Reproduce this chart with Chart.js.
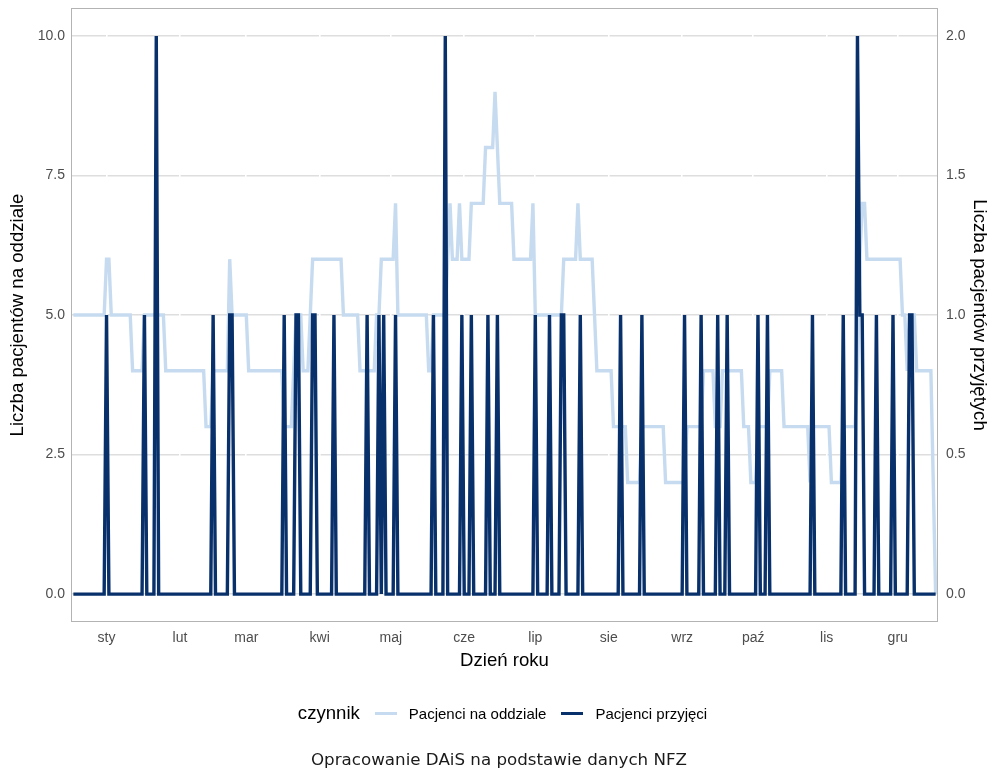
<!DOCTYPE html>
<html lang="pl">
<head>
<meta charset="utf-8">
<title>Pacjenci</title>
<script src="https://cdn.jsdelivr.net/npm/chart.js@4.4.1/dist/chart.umd.min.js"></script>
<style>
  html, body { margin: 0; padding: 0; background: #fff; }
  #wrap { position: relative; width: 990px; height: 775px; }
  #legend {
    position: absolute; left: 0; top: 700px; width: 990px; height: 26px;
    display: flex; justify-content: center; align-items: center;
    font-family: "Liberation Sans", Arial, sans-serif; color: #000;
    padding-left: 30px; box-sizing: border-box;
  }
  #legend .title { font-size: 18.6px; margin-right: 15px; }
  #legend .swatch { width: 22px; height: 3px; margin-right: 12px; }
  #legend .label { font-size: 15px; margin-right: 15px; }
  #caption {
    position: absolute; left: 0; top: 749px; width: 998px; text-align: center;
    font-family: "DejaVu Sans", sans-serif; font-size: 16.7px; color: #1a1a1a;
  }
</style>
</head>
<body>
<div id="wrap">
  <canvas id="myChart" width="990" height="775"></canvas>
  <div id="legend"></div>
  <div id="caption">Opracowanie DAiS na podstawie danych NFZ</div>
</div>
<script>
// dzienne wartości, jedna linia = jeden miesiąc
const pacjenciNaOddziale = [
  5,5,5,5,5,5,5,5,5,5, 5,5,5,5,6,6,5,5,5,5, 5,5,5,5,5,4,4,4,4,4, 5,           // sty
  5,5,5,5,5,5,5,5,4,4, 4,4,4,4,4,4,4,4,4,4, 4,4,4,4,4,3,3,3,                 // lut
  4,4,4,4,4,4,4,6,5,5, 5,5,5,5,5,4,4,4,4,4, 4,4,4,4,4,4,4,4,4,4, 3,           // mar
  3,3,3,4,5,5,5,4,4,4, 5,6,6,6,6,6,6,6,6,6, 6,6,6,6,5,5,5,5,5,5,             // kwi
  5,4,4,4,4,4,4,4,5,5, 6,6,6,6,6,6,7,5,5,5, 5,5,5,5,5,5,5,5,5,5, 4,           // maj
  4,5,5,5,5,5,5,6,7,6, 6,6,7,6,6,6,6,7,7,7, 7,7,7,8,8,8,8,9,8,7,             // cze
  7,7,7,7,7,6,6,6,6,6, 6,6,6,7,5,5,5,5,5,5, 5,5,5,5,5,5,6,6,6,6, 6,           // lip
  6,7,6,6,6,6,6,6,5,4, 4,4,4,4,4,4,3,3,3,3, 3,3,2,2,2,2,2,2,3,3, 3,           // sie
  3,3,3,3,3,3,3,2,2,2, 2,2,2,2,2,2,3,3,3,3, 3,3,3,4,4,4,4,4,3,3,             // wrz
  3,4,4,4,4,4,4,4,4,4, 3,3,3,2,2,2,3,3,3,3, 3,4,4,4,4,4,4,3,3,3, 3,           // paź
  3,3,3,3,3,3,3,2,3,3, 3,3,3,3,3,3,2,2,2,2, 2,3,3,3,3,3,3,4,6,7,             // lis
  7,6,6,6,6,6,6,6,6,6, 6,6,6,6,6,6,5,5,4,5, 5,5,4,4,4,4,4,4,4,2, 0            // gru
];

const pacjenciPrzyjeci = [
  0,0,0,0,0,0,0,0,0,0, 0,0,0,0,1,0,0,0,0,0, 0,0,0,0,0,0,0,0,0,0, 1,           // sty
  0,0,0,0,2,0,0,0,0,0, 0,0,0,0,0,0,0,0,0,0, 0,0,0,0,0,0,0,0,                 // lut
  1,0,0,0,0,0,0,1,1,0, 0,0,0,0,0,0,0,0,0,0, 0,0,0,0,0,0,0,0,0,0, 1,           // mar
  0,0,0,0,1,1,0,0,0,0, 0,1,1,0,0,0,0,0,0,0, 1,0,0,0,0,0,0,0,0,0,             // kwi
  0,0,0,0,1,0,0,0,0,1, 0,1,0,0,0,0,1,0,0,0, 0,0,0,0,0,0,0,0,0,0, 0,           // maj
  0,1,0,0,0,0,2,0,0,0, 0,0,0,1,0,0,0,1,0,0, 0,0,0,0,1,0,0,0,1,0,             // cze
  0,0,0,0,0,0,0,0,0,0, 0,0,0,0,1,0,0,0,0,0, 1,0,0,0,0,1,1,0,0,0, 0,           // lip
  0,0,1,0,0,0,0,0,0,0, 0,0,0,0,0,0,0,0,0,1, 0,0,0,0,0,0,0,0,1,0, 0,           // sie
  0,0,0,0,0,0,0,0,0,0, 0,0,0,0,0,1,0,0,0,0, 0,0,1,0,0,0,0,0,0,1,             // wrz
  0,0,0,1,0,0,0,0,0,0, 0,0,0,0,0,0,1,0,0,0, 1,0,0,0,0,0,0,0,0,0, 0,           // paź
  0,0,0,0,0,0,0,0,1,0, 0,0,0,0,0,0,0,0,0,0, 0,1,0,0,0,0,0,2,1,1,             // lis
  0,0,0,0,0,1,0,0,0,0, 0,0,1,0,0,0,0,0,0,1, 1,0,0,0,0,0,0,0,0,0, 0            // gru
];

const dni = pacjenciNaOddziale.map((_, i) => i + 1);

// środki miesięcy jako znaczniki osi X
const miesiaceDni = [15, 46, 74, 105, 135, 166, 196, 227, 258, 288, 319, 349];
const miesiaceNazwy = ["sty", "lut", "mar", "kwi", "maj", "cze", "lip", "sie", "wrz", "paź", "lis", "gru"];

const lewaOs = [0, 2.5, 5, 7.5, 10];
const prawaOs = [0, 0.5, 1, 1.5, 2];

const serie = [
  {name: "Pacjenci na oddziale", values: pacjenciNaOddziale, color: "#c6dbef", axis: "y", order: 1},
  {name: "Pacjenci przyjęci", values: pacjenciPrzyjeci, color: "#08306b", axis: "y2", order: 0}
];

const tickFont = {family: "'Liberation Sans', Arial, sans-serif", size: 14};
const titleFont = {family: "'Liberation Sans', Arial, sans-serif", size: 18.6};

// ramka panelu jak w theme_light
const panelBorder = {
  id: "panelBorder",
  afterDraw(chart) {
    const {ctx, chartArea: a} = chart;
    ctx.save();
    ctx.strokeStyle = "#b3b3b3";
    ctx.lineWidth = 1;
    ctx.strokeRect(a.left + 0.5, a.top + 0.5, a.right - a.left - 1, a.bottom - a.top - 1);
    ctx.restore();
  }
};

// stałe rozmiary osi, bez dodatkowego marginesu na etykiety
const fixWidth = w => scale => { scale.width = w; scale.paddingTop = 0; scale.paddingBottom = 0; };

const chart = new Chart("myChart", {
  type: "line",
  data: {
    labels: dni,
    datasets: serie.map(s => ({
      label: s.name,
      data: s.values,
      borderColor: s.color,
      backgroundColor: s.color,
      borderWidth: 3.4,
      pointRadius: 0,
      tension: 0,
      fill: false,
      yAxisID: s.axis,
      order: s.order
    }))
  },
  options: {
    responsive: false,
    animation: false,
    events: [],
    layout: {padding: {top: 8, left: 0, right: 0, bottom: 103}},
    plugins: {legend: {display: false}, tooltip: {enabled: false}},
    scales: {
      y: {
        type: "linear",
        position: "left",
        min: -0.5,
        max: 10.5,
        afterBuildTicks: scale => { scale.ticks = lewaOs.map(v => ({value: v})); },
        afterFit: fixWidth(71),
        ticks: {color: "#4d4d4d", font: tickFont, padding: 6, callback: v => v.toFixed(1)},
        grid: {color: "#dedede", lineWidth: 1.4, drawTicks: false, z: -1},
        border: {display: false},
        title: {display: true, text: "Liczba pacjentów na oddziale", color: "#000", font: titleFont, padding: {top: 7, bottom: 0}}
      },
      y2: {
        type: "linear",
        position: "right",
        min: -0.1,
        max: 2.1,
        afterBuildTicks: scale => { scale.ticks = prawaOs.map(v => ({value: v})); },
        afterFit: fixWidth(52),
        ticks: {color: "#4d4d4d", font: tickFont, padding: 8, callback: v => v.toFixed(1)},
        grid: {display: false, drawTicks: false},
        border: {display: false},
        title: {display: true, text: "Liczba pacjentów przyjętych", color: "#000", font: titleFont, padding: {top: 0, bottom: 0}}
      },
      x: {
        type: "linear",
        position: "bottom",
        min: 0,
        max: 366,
        afterBuildTicks: scale => { scale.ticks = miesiaceDni.map(v => ({value: v})); },
        afterFit: scale => { scale.height = 50; scale.paddingLeft = 0; scale.paddingRight = 0; },
        ticks: {color: "#4d4d4d", font: tickFont, padding: 8, maxRotation: 0, autoSkip: false,
                callback: (v, i) => miesiaceNazwy[i]},
        grid: {color: "#ffffff", lineWidth: 1.6, drawTicks: false, z: 0},
        border: {display: false},
        title: {display: true, text: "Dzień roku", color: "#000", font: titleFont, padding: {top: 0, bottom: 0}}
      }
    }
  },
  plugins: [panelBorder]
});

// legenda w stylu ggplot, pod wykresem
const legend = document.getElementById("legend");
legend.innerHTML = '<span class="title">czynnik</span>' + serie.map(s =>
  '<span class="swatch" style="background:' + s.color + '"></span><span class="label">' + s.name + '</span>'
).join("");
</script>
</body>
</html>
